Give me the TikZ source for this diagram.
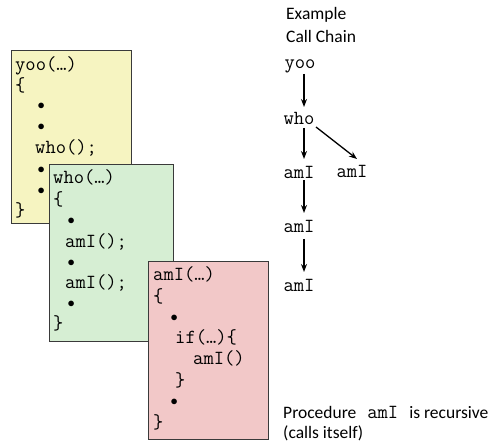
\documentclass[tikz,border=0pt]{standalone}
\usepackage{fontspec}
\setmainfont{Carlito}
\usetikzlibrary{arrows.meta,calc}
\definecolor{yooFill}{HTML}{F6F4C1}
\definecolor{whoFill}{HTML}{D6EED3}
\definecolor{amIFill}{HTML}{F2C8C8}
\definecolor{frameLine}{HTML}{3A3A3A}
\newcommand{\dotmark}{{\fontsize{14}{14}\selectfont$\bullet$}}
\begin{document}
\begin{tikzpicture}[x=1pt,y=-1pt,
  frame/.style={draw=frameLine,line width=0.9pt},
  code/.style={anchor=west,inner sep=0pt,text height=10pt,text depth=3pt,
    font=\fontsize{20}{21}\ttfamily},
  bul/.style={anchor=west,inner sep=0pt,text height=5pt,text depth=0pt},
  chain/.style={inner sep=0pt,font=\fontsize{20}{21}\ttfamily},
  note/.style={anchor=west,inner sep=0pt,font=\fontsize{17.5}{20}\selectfont},
  call/.style={-{Stealth[length=8pt,width=6pt]},line width=1.3pt}]
\useasboundingbox (0,0) rectangle (489,443);
% frames of the three active procedures
\filldraw[frame,fill=yooFill] (11,50) rectangle (131,223);
\node[code] (y1) at (15,67) {yoo(…)};
\node[code] (y2) at (15,88) {\{};
\node[bul] (y3) at (37.5,107) {\dotmark};
\node[bul] (y4) at (37.5,128) {\dotmark};
\node[code] (y5) at (35,150) {who();};
\node[bul] (y6) at (37.5,171) {\dotmark};
\node[bul] (y7) at (37.5,192) {\dotmark};
\node[code] (y8) at (15,213) {\}};

\filldraw[frame,fill=whoFill] (49,164) rectangle (173,341);
\node[code] (w1) at (53,180) {who(…)};
\node[code] (w2) at (53,202) {\{};
\node[bul] (w3) at (67.5,222) {\dotmark};
\node[code] (w4) at (65,244) {amI();};
\node[bul] (w5) at (67.5,264) {\dotmark};
\node[code] (w6) at (65,285) {amI();};
\node[bul] (w7) at (67.5,305) {\dotmark};
\node[code] (w8) at (53,326) {\}};

\filldraw[frame,fill=amIFill] (148,261) rectangle (268,439);
\node[code] (a1) at (153,277) {amI(…)};
\node[code] (a2) at (153,299) {\{};
\node[bul] (a3) at (170.5,319) {\dotmark};
\node[code] (a4) at (175,340) {if(…)\{};
\node[code] (a5) at (193,361) {amI()};
\node[code] (a6) at (175,383) {\}};
\node[bul] (a7) at (170.5,403) {\dotmark};
\node[code] (a8) at (153,425) {\}};

% call chain
\node[note] (t1) at (286,15) {Example};
\node[note] (t2) at (286,36) {Call Chain};
\node[chain] (c1) at (300,66) {yoo};
\node[chain] (c2) at (299,118) {who};
\node[chain] (c3) at (299,172) {amI};
\node[chain] (c4) at (352,171) {amI};
\node[chain] (c5) at (299,226) {amI};
\node[chain] (c6) at (299,285) {amI};
\draw[call] ($(c1.center)+(4,8)$) -- ($(c2.center)+(5,-11)$);
\draw[call] ($(c2.center)+(5,10)$) -- ($(c3.center)+(5,-13)$);
\draw[call] ($(c2.center)+(17,9)$) -- ($(c4.center)+(5,-12)$);
\draw[call] ($(c3.center)+(5,8)$) -- ($(c5.center)+(5,-13)$);
\draw[call] ($(c5.center)+(5,13)$) -- ($(c6.center)+(5,-13)$);

\node[note] (n1) at (283,412) {Procedure\hspace{11pt}\texttt{\fontsize{20}{21}\selectfont amI}\hspace{11pt}is recursive};
\node[note] (n2) at (283,433) {(calls itself)};
\end{tikzpicture}
\end{document}
